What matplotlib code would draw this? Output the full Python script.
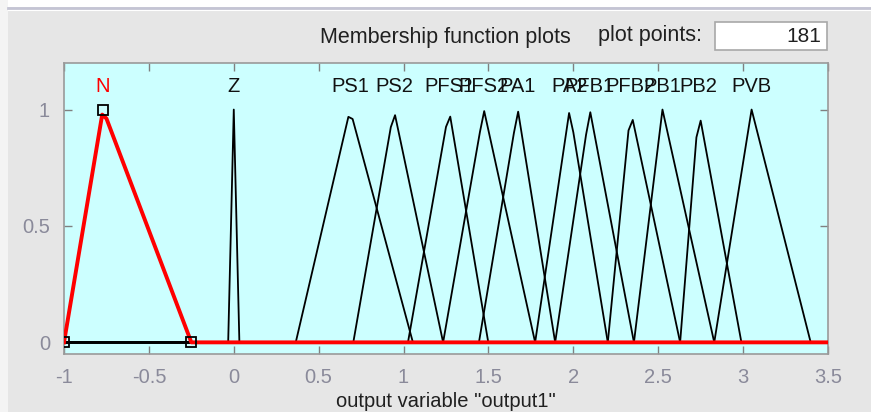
import numpy as np
import matplotlib
matplotlib.use('Agg')
import matplotlib.pyplot as plt
from matplotlib.patches import Rectangle
from matplotlib.lines import Line2D

plt.rcParams['font.family'] = ['Liberation Sans', 'DejaVu Sans']

# output variable range and number of plotted points
x_range = [-1.0, 3.5]
n_points = 181

# membership functions (trimf params a, b, c)
mf_names = ['N', 'Z', 'PS1', 'PS2', 'PFS1', 'PFS2', 'PA1', 'PA2',
            'PFB1', 'PFB2', 'PB1', 'PB2', 'PVB']
mf_params = [
    [-1.0, -0.77, -0.25],
    [-0.033, 0.0, 0.033],
    [0.365, 0.685, 1.055],
    [0.704, 0.943, 1.233],
    [1.026, 1.268, 1.499],
    [1.233, 1.473, 1.775],
    [1.444, 1.673, 1.893],
    [1.775, 1.978, 2.203],
    [1.893, 2.097, 2.357],
    [2.203, 2.337, 2.629],
    [2.357, 2.525, 2.83],
    [2.629, 2.738, 2.99],
    [2.83, 3.05, 3.398],
]
selected = 'N'

xticks = [-1, -0.5, 0, 0.5, 1, 1.5, 2, 2.5, 3, 3.5]
xtick_labels = ['-1', '-0.5', '0', '0.5', '1', '1.5', '2', '2.5', '3', '3.5']
yticks = [0, 0.5, 1]
ytick_labels = ['0', '0.5', '1']


def trimf(x, p):
    a, b, c = p
    y = np.zeros_like(x)
    left = (x > a) & (x <= b)
    right = (x > b) & (x < c)
    y[left] = (x[left] - a) / (b - a)
    y[right] = (c - x[right]) / (c - b)
    y[x == b] = 1.0
    return y


W, H = 871, 412
fig = plt.figure(figsize=(W / 100, H / 100), dpi=100)
fig.patch.set_facecolor('#e6e6e6')

# window chrome
fig.patches.append(Rectangle((0, 1 - 7 / H), 1, 7 / H, transform=fig.transFigure,
                             facecolor='white', edgecolor='none'))
fig.patches.append(Rectangle((0, 0), 8 / W, 1, transform=fig.transFigure,
                             facecolor='#f4f4f4', edgecolor='none'))
fig.lines.append(Line2D([8 / W, 1], [1 - 8 / H, 1 - 8 / H], transform=fig.transFigure,
                        color='#c4c4d4', lw=2))
fig.lines.append(Line2D([8 / W, 1], [1 - 10 / H, 1 - 10 / H], transform=fig.transFigure,
                        color='white', lw=0.8))

ax = fig.add_axes([64 / W, 1 - 354 / H, 764 / W, 291 / H])
ax.set_facecolor('#ccffff')

grid = np.linspace(x_range[0], x_range[1], n_points)
for name, p in zip(mf_names, mf_params):
    if name == selected:
        continue
    xs = np.union1d(grid, [p[0], p[2]])
    ax.plot(xs, trimf(xs, p), color='black', lw=1.3, zorder=2)
    ax.text(p[1], 1.1, name, ha='center', va='center', fontsize=14.5, color='#111111')

for name, p in zip(mf_names, mf_params):
    if name != selected:
        continue
    xs = np.union1d(grid, [p[0], p[2]])
    ax.plot(xs, trimf(xs, p), color='red', lw=2.8, zorder=3)
    ax.plot(p, [0, 1, 0], ls='none', marker='s', ms=7, mfc='none', mec='black',
            mew=1.3, zorder=4)
    ax.text(p[1], 1.1, name, ha='center', va='center', fontsize=14.5, color='red')

ax.set_xlim(x_range)
ax.set_ylim(-0.05, 1.2)
ax.set_xticks(xticks)
ax.set_xticklabels(xtick_labels)
ax.set_yticks(yticks)
ax.set_yticklabels(ytick_labels)
ax.tick_params(direction='in', length=6, width=1, color='#808080',
               labelcolor='#8a8a9a', labelsize=14.5, top=True, right=True, pad=10)
for s in ax.spines.values():
    s.set_color('#9a9a9a')
    s.set_linewidth(1.2)
ax.set_xlabel('output variable "output1"', fontsize=14.5, color='#202020', labelpad=4)

# header
fig.text(445 / W, 1 - 37 / H, 'Membership function plots', ha='center', va='center',
         fontsize=15.5, color='#202020')
fig.text(650 / W, 1 - 36 / H, 'plot points:', ha='center', va='center',
         fontsize=15.5, color='#202020')
fig.patches.append(Rectangle((715 / W, 1 - 50 / H), 112 / W, 28 / H,
                             transform=fig.transFigure, facecolor='white',
                             edgecolor='#a8a8a8', lw=1.2))
fig.text(821 / W, 1 - 37 / H, str(n_points), ha='right', va='center',
         fontsize=15, color='#202020')

fig.savefig('out.png', dpi=100, facecolor=fig.get_facecolor())
